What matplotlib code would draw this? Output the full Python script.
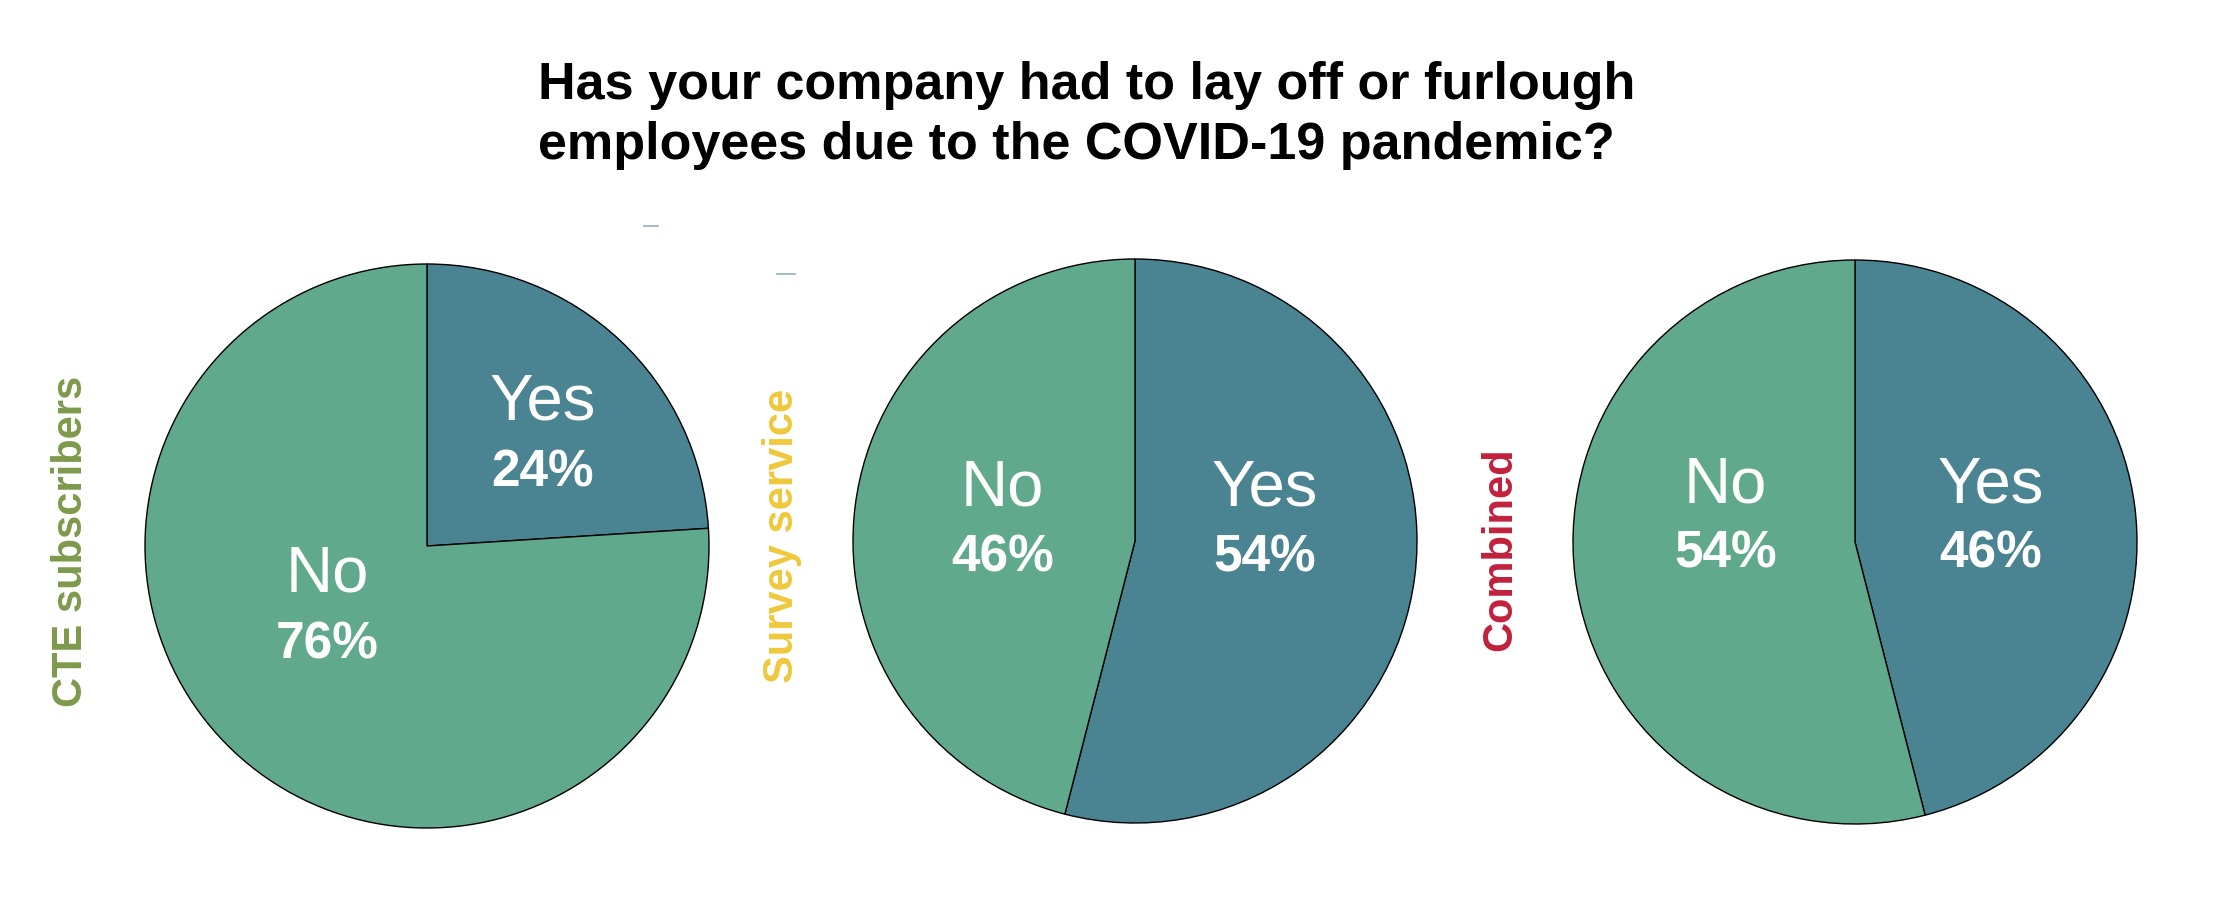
import matplotlib
matplotlib.use("Agg")
import matplotlib.pyplot as plt
from matplotlib.lines import Line2D

# ---- data ----
groups = ["CTE subscribers", "Survey service", "Combined"]
answers = ["Yes", "No"]
yes_pct = [24, 54, 46]
no_pct = [76, 46, 54]
title_lines = ["Has your company had to lay off or furlough",
               "employees due to the COVID-19 pandemic?"]

# ---- style / layout ----
W, H = 2219, 901
plt.rcParams['font.family'] = ['Liberation Sans', 'DejaVu Sans']
ans_colors = {"Yes": "#4a8391", "No": "#61a98c"}
group_colors = ["#7d9a4b", "#f0c83c", "#c1213d"]
pie_centers = [(427, 546), (1135, 541), (1855, 542)]
R = 282
side_label_pos = [(71, 541), (782, 536), (1500, 549)]
# label positions inside pies (axis units): answer -> (x, name baseline, pct baseline)
label_pos = [
    {"Yes": (0.41, 0.45, 0.21), "No": (-0.355, -0.16, -0.40)},
    {"Yes": (0.46, 0.125, -0.107), "No": (-0.47, 0.125, -0.107)},
    {"Yes": (0.48, 0.14, -0.09), "No": (-0.46, 0.14, -0.09)},
]

fig = plt.figure(figsize=(W / 100, H / 100), dpi=100)
fig.patch.set_facecolor("white")

# title
fig.text(538 / W, 1 - 99 / H, title_lines[0], ha="left", va="baseline",
         fontsize=37.5, fontweight="bold", color="black")
fig.text(538 / W, 1 - 159 / H, title_lines[1], ha="left", va="baseline",
         fontsize=37.5, fontweight="bold", color="black")

for i, g in enumerate(groups):
    cx, cy = pie_centers[i]
    ax = fig.add_axes([(cx - R) / W, 1 - (cy + R) / H, 2 * R / W, 2 * R / H])
    vals = [yes_pct[i], no_pct[i]]
    ax.pie(vals, colors=[ans_colors[a] for a in answers], startangle=90,
           counterclock=False, radius=1,
           wedgeprops=dict(edgecolor="black", linewidth=1.0))
    ax.set_xlim(-1.0, 1.0)
    ax.set_ylim(-1.0, 1.0)
    ax.set_aspect("equal")
    ax.axis("off")
    for a, v in zip(answers, vals):
        x, yn, yp = label_pos[i][a]
        ax.text(x, yn, a, ha="center", va="baseline", fontsize=47,
                color="white", clip_on=False)
        ax.text(x, yp, f"{v}%", ha="center", va="baseline", fontsize=37,
                fontweight="bold", color="white", clip_on=False)
    sx, sy = side_label_pos[i]
    fig.text(sx / W, 1 - sy / H, g, rotation=90, ha="center", va="center",
             fontsize=30, fontweight="bold", color=group_colors[i])

# small stray dashes present in the original graphic
for (x0, x1, y) in [(644, 658, 226), (777, 795, 274)]:
    fig.add_artist(Line2D([x0 / W, x1 / W], [1 - y / H, 1 - y / H],
                          transform=fig.transFigure, color="#8fb0bd", lw=1.2))

fig.savefig("out.png", dpi=100, facecolor="white")
